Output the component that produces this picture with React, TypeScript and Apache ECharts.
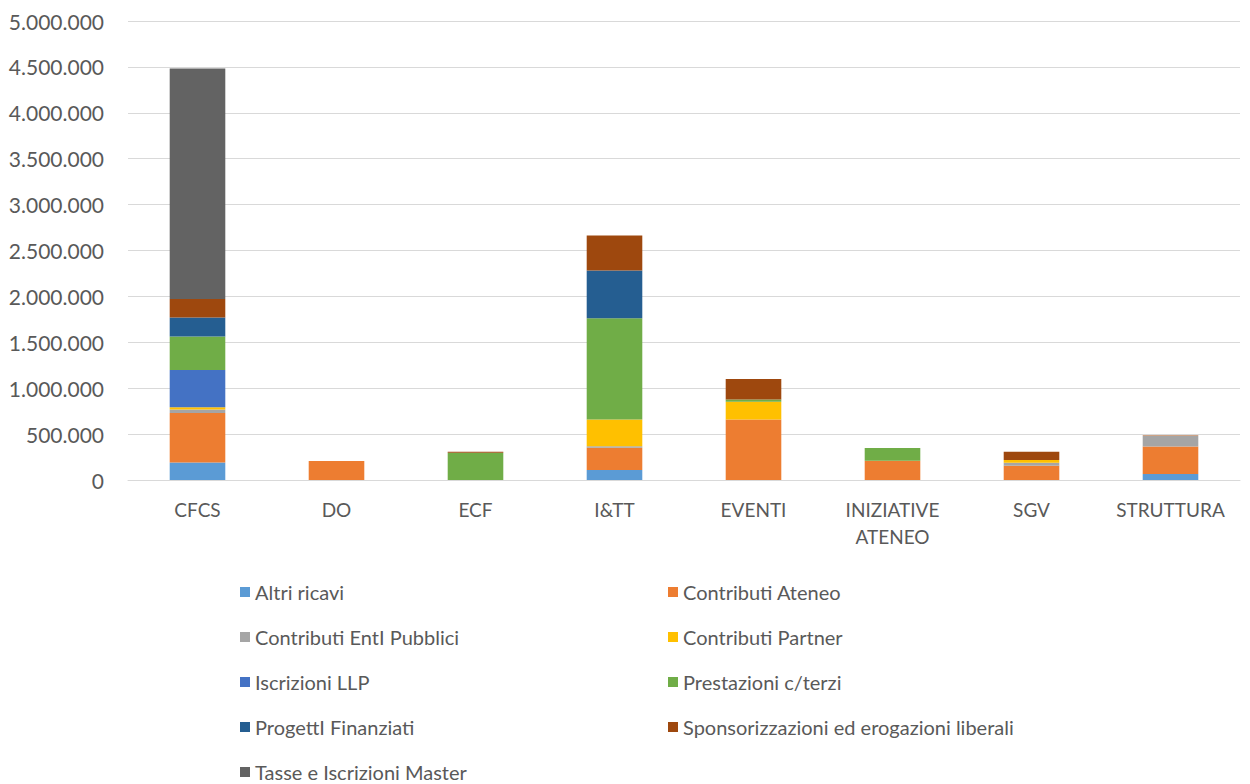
import React, { useEffect, useRef } from "react";
import * as echarts from "echarts";

const categories = ["CFCS", "DO", "ECF", "I&TT", "EVENTI", "INIZIATIVE\nATENEO", "SGV", "STRUTTURA"];

const seriesNames = [
  "Altri ricavi",
  "Contributi Ateneo",
  "Contributi EntI Pubblici",
  "Contributi Partner",
  "Iscrizioni LLP",
  "Prestazioni c/terzi",
  "ProgettI Finanziati",
  "Sponsorizzazioni ed erogazioni liberali",
  "Tasse e Iscrizioni Master",
];

const seriesColors = ["#5B9BD5", "#ED7D31", "#A5A5A5", "#FFC000", "#4472C4", "#70AD47", "#255E91", "#9E480E", "#636363"];

const altriRicavi = [190000, 0, 0, 110000, 0, 0, 0, 65000];
const contributiAteneo = [540000, 207000, 0, 240000, 660000, 210000, 155000, 300000];
const contributiEntiPubblici = [37000, 0, 0, 18000, 0, 0, 33000, 113000];
const contributiPartner = [25000, 0, 0, 290000, 192000, 0, 29000, 0];
const iscrizioniLLP = [405000, 0, 0, 0, 0, 0, 0, 0];
const prestazioniTerzi = [366000, 0, 298000, 1103000, 26000, 138000, 0, 0];
const progettiFinanziati = [206000, 0, 0, 522000, 0, 0, 0, 0];
const sponsorizzazioni = [203000, 0, 10000, 381000, 221000, 0, 90000, 6000];
const tasseMaster = [2510000, 0, 0, 0, 0, 0, 0, 0];

const seriesValues = [
  altriRicavi,
  contributiAteneo,
  contributiEntiPubblici,
  contributiPartner,
  iscrizioniLLP,
  prestazioniTerzi,
  progettiFinanziati,
  sponsorizzazioni,
  tasseMaster,
];

const yMin = 0;
const yMax = 5000000;
const yInterval = 500000;

const FONT = "Lato, 'Noto Sans', sans-serif";
const TEXT_COLOR = "#595959";

function fmt(v: number): string {
  return String(Math.round(v)).replace(/\B(?=(\d{3})+(?!\d))/g, ".");
}

export default function App() {
  const ref = useRef<HTMLDivElement>(null);

  useEffect(() => {
    if (!ref.current) return;
    const chart = echarts.init(ref.current, null, { renderer: "svg" });

    const leftIdx = [0, 2, 4, 6];
    const rightIdx = [1, 3, 5, 7];
    const lastIdx = [8];

    const legendBase = {
      orient: "vertical" as const,
      itemWidth: 10,
      itemHeight: 10,
      itemGap: 25,
      padding: 0,
      icon: "rect",
      textStyle: { fontFamily: FONT, fontSize: 20, color: TEXT_COLOR },
    };

    chart.setOption({
      animation: false,
      backgroundColor: "#ffffff",
      grid: { left: 128, right: 10, top: 21, bottom: 304, containLabel: false },
      xAxis: {
        type: "category",
        data: categories,
        axisTick: { show: false },
        axisLine: { show: true, lineStyle: { color: "#d9d9d9", width: 1 } },
        axisLabel: {
          interval: 0,
          margin: 16,
          fontFamily: FONT,
          fontSize: 19,
          lineHeight: 27,
          color: TEXT_COLOR,
        },
      },
      yAxis: {
        type: "value",
        min: yMin,
        max: yMax,
        interval: yInterval,
        axisLine: { show: false },
        axisTick: { show: false },
        splitLine: { lineStyle: { color: "#d9d9d9", width: 1 } },
        axisLabel: {
          margin: 24,
          fontFamily: FONT,
          fontSize: 21,
          color: TEXT_COLOR,
          formatter: (v: number) => fmt(v),
        },
      },
      legend: [
        { ...legendBase, left: 240, top: 582, data: leftIdx.map((i) => seriesNames[i]) },
        { ...legendBase, left: 668, top: 582, data: rightIdx.map((i) => seriesNames[i]) },
        { ...legendBase, left: 240, top: 762, data: lastIdx.map((i) => seriesNames[i]) },
      ],
      series: seriesNames.map((name, i) => ({
        name,
        type: "bar",
        stack: "total",
        barWidth: "40%",
        itemStyle: { color: seriesColors[i] },
        data: seriesValues[i],
      })),
    });

    return () => chart.dispose();
  }, []);

  return (
    <div
      ref={ref}
      style={{ position: "fixed", left: 0, top: 0, width: 1250, height: 784, background: "#fff" }}
    />
  );
}
